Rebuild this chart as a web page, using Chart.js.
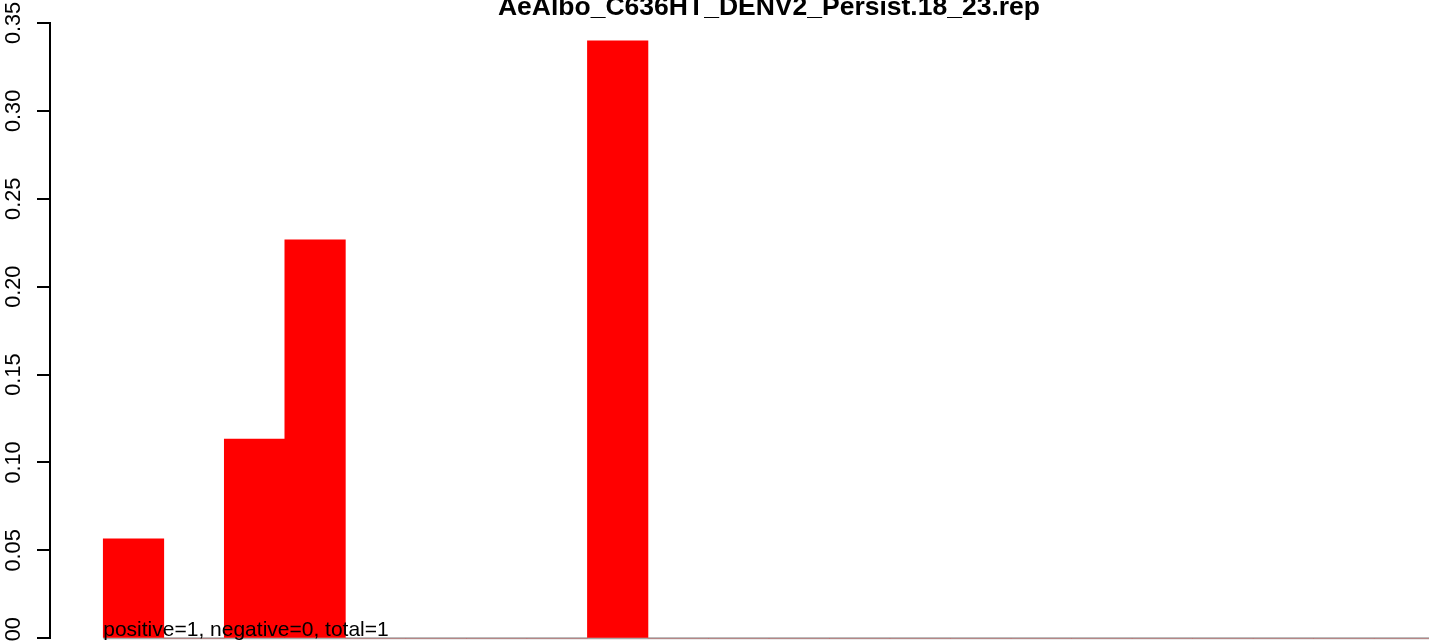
<!DOCTYPE html>
<html>
<head>
<meta charset="utf-8">
<script src="https://cdn.jsdelivr.net/npm/chart.js@4/dist/chart.umd.min.js"></script>
<style>
  html, body { margin: 0; padding: 0; background: #fff; overflow: hidden; }
  #wrap { width: 1488px; height: 643px; }
</style>
</head>
<body>
<div id="wrap"><canvas id="chart" width="1488" height="643"></canvas></div>
<script>
// bar slots along the x axis (22 slots, space = 0)
const slots = [0, 1, 2, 3, 4, 5, 6, 7, 8, 9, 10, 11, 12, 13, 14, 15, 16, 17, 18, 19, 20, 21];
const fractions = [0.0566, 0, 0.1133, 0.2266, 0, 0, 0, 0, 0.3399, 0, 0, 0, 0, 0, 0, 0, 0, 0, 0, 0, 0, 0];
const yTicks = [0, 0.05, 0.10, 0.15, 0.20, 0.25, 0.30, 0.35];
const title = 'AeAlbo_C636HT_DENV2_Persist.18_23.rep';
const note = 'positive=1, negative=0, total=1';

Chart.defaults.font.family = "'Liberation Sans', Arial, sans-serif";
Chart.defaults.color = '#000';

// draws the count note at the base of the first bar
const notePlugin = {
    id: 'note',
    afterDatasetsDraw: function (chart) {
        const { ctx, scales } = chart;
        ctx.save();
        ctx.font = "21px 'Liberation Sans', Arial, sans-serif";
        ctx.fillStyle = '#000';
        ctx.textAlign = 'left';
        ctx.textBaseline = 'alphabetic';
        ctx.fillText(note, scales.x.getPixelForValue(slots[0]), scales.y.getPixelForValue(0) - 2);
        ctx.restore();
    }
};

const ctx = document.getElementById('chart').getContext('2d');
new Chart(ctx, {
    data: {
        datasets: [
            {
                type: 'bar',
                data: slots.map((s, i) => ({ x: s + 0.5, y: fractions[i] })),
                backgroundColor: '#ff0000',
                borderWidth: 0,
                barPercentage: 1,
                categoryPercentage: 1,
                grouped: false,
                order: 1
            },
            {
                // baseline under the bars
                type: 'line',
                data: [{ x: slots[0], y: 0 }, { x: slots[slots.length - 1] + 1, y: 0 }],
                borderColor: '#a6a6a6',
                borderWidth: 2,
                pointRadius: 0,
                clip: false,
                order: 2
            }
        ]
    },
    options: {
        responsive: false,
        animation: false,
        layout: { padding: { left: 0, right: 0, top: 0, bottom: 4.7 } },
        plugins: {
            legend: { display: false },
            tooltip: { enabled: false },
            title: {
                display: true,
                fullSize: false,
                text: title,
                color: '#000',
                font: { size: 26.5, weight: 'bold', lineHeight: 1 },
                padding: { top: -6, bottom: 2.5 }
            }
        },
        scales: {
            x: {
                type: 'linear',
                offset: false,
                min: -0.88,
                max: slots.length + 0.88,
                display: false
            },
            y: {
                position: 'left',
                min: 0,
                max: 0.35,
                afterBuildTicks: function (scale) {
                    scale.ticks = yTicks.map(v => ({ value: v }));
                },
                afterFit: function (scale) {
                    scale.width = 50;
                    scale.paddingTop = 0;
                    scale.paddingBottom = 0;
                },
                ticks: {
                    minRotation: 90,
                    maxRotation: 90,
                    crossAlign: 'center',
                    padding: 1.5,
                    color: '#000',
                    font: { size: 21.7 },
                    callback: v => v.toFixed(2)
                },
                grid: {
                    drawOnChartArea: false,
                    drawTicks: true,
                    tickLength: 13,
                    color: '#000',
                    lineWidth: 2
                },
                border: { display: true, color: '#000', width: 2 }
            }
        }
    },
    plugins: [notePlugin]
});
</script>
</body>
</html>
